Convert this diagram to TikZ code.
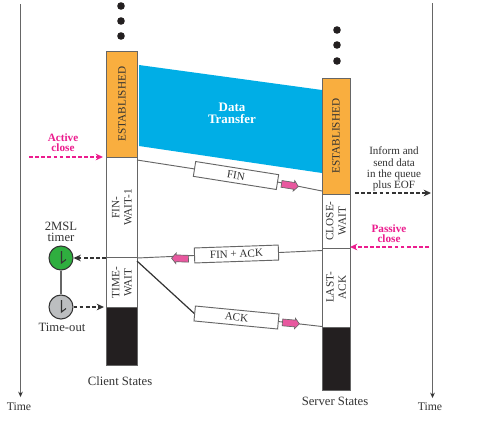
\documentclass[tikz,border=0pt]{standalone}
\usepackage{fontspec}
\setmainfont{Liberation Serif}
\usetikzlibrary{arrows.meta,shapes.arrows}
\def\pxu{0.75pt}
\definecolor{ink}{HTML}{333333}
\definecolor{edge}{HTML}{666666}
\definecolor{orangebar}{HTML}{F9AE3F}
\definecolor{bluedata}{HTML}{00AEE6}
\definecolor{magentatxt}{HTML}{EC1C8E}
\definecolor{pinkarrow}{HTML}{E8589F}
\definecolor{blackbar}{HTML}{231F20}
\definecolor{greenclock}{HTML}{2FAE3F}
\definecolor{grayclock}{HTML}{BCBEC0}
\tikzset{
  x=0.75pt,y=-0.75pt,
  txt/.style={font=\fontsize{8.3pt}{8.5pt}\selectfont,text=ink,align=center,inner sep=0pt},
  bigtxt/.style={font=\fontsize{9.5pt}{8.4pt}\selectfont,text=ink,align=center,inner sep=0pt},
  coltxt/.style={font=\fontsize{8.4pt}{9.2pt}\selectfont,text=ink,align=center,inner sep=0pt},
  magtxt/.style={font=\fontsize{8.4pt}{7.5pt}\selectfont\bfseries,text=magentatxt,align=center,inner sep=0pt},
  seg/.style={draw=edge,line width=0.7pt,rotate=90,inner sep=0pt,coltxt},
  msg/.style={draw=edge,line width=0.7pt,fill=white,minimum width=84*\pxu,minimum height=15*\pxu,inner sep=0pt,txt},
  link/.style={draw=edge,line width=0.7pt},
  timeaxis/.style={draw=edge,line width=0.9pt,-{Stealth[length=4pt,width=3.5pt,color=ink]}},
  blackdash/.style={draw=ink,line width=1pt,dash pattern=on 2.8pt off 1.8pt,-{Stealth[length=5.5pt,width=5pt]}},
  magdash/.style={draw=magentatxt,line width=1pt,dash pattern=on 2.8pt off 1.8pt,-{Stealth[length=5.5pt,width=5pt]}},
  pink/.style={shape=single arrow,draw=edge,line width=0.5pt,fill=pinkarrow,minimum height=17*\pxu,
    single arrow head extend=1.4pt,single arrow tip angle=100,inner sep=0pt},
  dotn/.style={circle,fill=blackbar,minimum size=7.6*\pxu,inner sep=0pt},
  clockn/.style={circle,draw=ink,line width=0.8pt,minimum size=24*\pxu,inner sep=0pt},
}
\newcommand{\pinkbody}{\rule{0pt}{4.6pt}}
\begin{document}
\begin{tikzpicture}
\useasboundingbox (0,0) rectangle (495,426);
\fill[white] (0,0) rectangle (495,426);

% time axes
\coordinate (tl1) at (20.5,4); \coordinate (tl2) at (20.5,397);
\coordinate (tr1) at (432.5,3); \coordinate (tr2) at (432.5,398);
\draw[timeaxis] (tl1) -- (tl2);
\draw[timeaxis] (tr1) -- (tr2);
\node[bigtxt,font=\fontsize{8.8pt}{9pt}\selectfont] (timeL) at (19,407) {Time};
\node[bigtxt,font=\fontsize{8.8pt}{9pt}\selectfont] (timeR) at (430,407) {Time};

% dots
\foreach \i/\y in {1/6,2/21,3/36} \node[dotn] (cd\i) at (121,\y) {};
\foreach \i/\y in {1/30,2/45,3/61} \node[dotn] (sd\i) at (337,\y) {};

% data transfer
\fill[bluedata] (139,65) -- (322,90) -- (322,173) -- (139,146) -- cycle;
\node[font=\fontsize{9.7pt}{8.6pt}\selectfont\bfseries,text=white,align=center,inner sep=0pt] (data) at (232,113.5) {Data\\Transfer};

% client column
\node[seg,fill=orangebar,minimum width=106*\pxu,minimum height=30.5*\pxu] (cE) at (122,104) {ESTABLISHED};
\node[seg,fill=white,minimum width=101*\pxu,minimum height=30.5*\pxu] (cF) at (122,207.5) {FIN-\\WAIT-1};
\node[seg,fill=white,minimum width=49.5*\pxu,minimum height=30.5*\pxu] (cT) at (122,282.5) {TIME-\\WAIT};
\node[seg,fill=blackbar,minimum width=58*\pxu,minimum height=30.5*\pxu] (cB) at (122,336) {};
% server column
\node[seg,fill=orangebar,minimum width=116*\pxu,minimum height=28*\pxu] (sE) at (336,136) {ESTABLISHED};
\node[seg,fill=white,minimum width=54*\pxu,minimum height=28*\pxu] (sC) at (336,221) {CLOSE-\\WAIT};
\node[seg,fill=white,minimum width=79*\pxu,minimum height=28*\pxu] (sL) at (336,287.5) {LAST-\\ACK};
\node[seg,fill=blackbar,minimum width=63*\pxu,minimum height=28*\pxu] (sB) at (336,358.5) {};

% message lines
\coordinate (finA) at (137,160); \coordinate (finB) at (322,191);
\coordinate (faA) at (322,250.5); \coordinate (faB) at (137,258);
\coordinate (ackA) at (137,261); \coordinate (ackB) at (322,326.5);
\node[msg,rotate=-9] (fin) at (236,175.5) {FIN};
\node[msg,rotate=2] (finack) at (236.5,254) {FIN + ACK};
\node[msg,rotate=-5.5] (ack) at (236.5,317.5) {ACK};
\draw[link] (finA) -- (fin.west);
\draw[link] (fin.east) -- (finB);
\draw[link] (faA) -- (finack.east);
\draw[link] (finack.west) -- (faB);
\draw[draw=ink,line width=0.9pt] (ackA) -- (ack.west);
\draw[link] (ack.east) -- (ackB);
\node[pink,rotate=-9] (p1) at (288.5,185) {\pinkbody};
\node[pink,rotate=178] (p2) at (181.5,258.5) {\pinkbody};
\node[pink,rotate=-5] (p3) at (289.5,323) {\pinkbody};

% clocks
\node[clockn,fill=greenclock] (ck1) at (61,258) {};
\node[clockn,fill=grayclock] (ck2) at (61,307) {};
\draw[draw=edge,line width=1pt] (ck1) -- (ck2);
\draw[ink,line width=0.8pt] (61.5,251) -- (61.5,263) -- (66,259.5);
\draw[ink,line width=0.8pt] (61.5,300) -- (61.5,312) -- (66,308.5);
\node[bigtxt] (t1) at (61,231.5) {2MSL\\timer};
\node[bigtxt] (t2) at (62,327.5) {Time-out};
\coordinate (c1) at (106,258);
\coordinate (c2) at (104,307);
\draw[blackdash] (c1) -- (ck1.east);
\draw[blackdash] (ck2.east) -- (c2);

% side labels
\node[magtxt] (active) at (63,143) {Active\\close};
\coordinate (ac1) at (29,157); \coordinate (ac2) at (103,157);
\draw[magdash] (ac1) -- (ac2);
\node[magtxt] (passive) at (389,234) {Passive\\close};
\coordinate (pc1) at (429,247); \coordinate (pc2) at (350,247);
\draw[magdash] (pc1) -- (pc2);
\node[txt] (inform) at (394,169) {Inform and\\send data\\in the queue\\plus EOF};
\coordinate (ie1) at (355,193); \coordinate (ie2) at (431,193);
\draw[blackdash] (ie1) -- (ie2);
\node[bigtxt] (cs) at (120,381) {Client States};
\node[bigtxt] (ss) at (335,401) {Server States};
\end{tikzpicture}
\end{document}
